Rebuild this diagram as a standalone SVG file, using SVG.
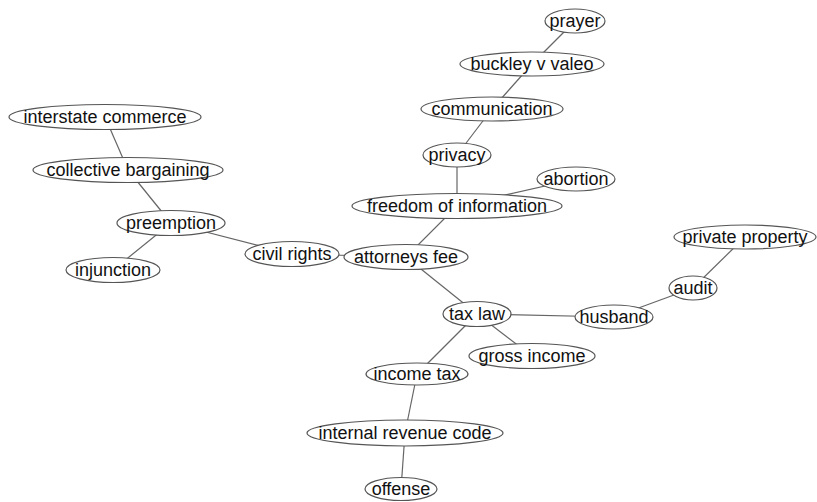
<svg xmlns="http://www.w3.org/2000/svg" width="817" height="502" viewBox="0 0 817 502">
<style>
.e{stroke:#666;stroke-width:1.2;fill:none}
ellipse{fill:#fff;stroke:#555;stroke-width:1.2}
text{font-family:"Liberation Sans",Arial,sans-serif;font-size:18px;fill:#111;text-anchor:middle;dominant-baseline:central}
</style>
<rect width="817" height="502" fill="#fff"/>
<g id="edges">
<line class="e" x1="575" y1="21" x2="532" y2="64"/>
<line class="e" x1="532" y1="64" x2="492" y2="109"/>
<line class="e" x1="492" y1="109" x2="457" y2="155"/>
<line class="e" x1="457" y1="155" x2="457" y2="206"/>
<line class="e" x1="576" y1="179" x2="457" y2="206"/>
<line class="e" x1="457" y1="206" x2="406" y2="257"/>
<line class="e" x1="105" y1="117" x2="128" y2="170"/>
<line class="e" x1="128" y1="170" x2="171" y2="223"/>
<line class="e" x1="171" y1="223" x2="113" y2="270"/>
<line class="e" x1="171" y1="223" x2="292" y2="254"/>
<line class="e" x1="292" y1="254" x2="406" y2="257"/>
<line class="e" x1="406" y1="257" x2="477" y2="314"/>
<line class="e" x1="477" y1="314" x2="614" y2="317"/>
<line class="e" x1="477" y1="314" x2="532" y2="356"/>
<line class="e" x1="477" y1="314" x2="417" y2="374"/>
<line class="e" x1="614" y1="317" x2="693" y2="288"/>
<line class="e" x1="693" y1="288" x2="745" y2="237"/>
<line class="e" x1="417" y1="374" x2="405" y2="433"/>
<line class="e" x1="405" y1="433" x2="401" y2="489"/>
</g>
<g id="prayer"><ellipse cx="575" cy="21" rx="30" ry="12"/><text x="575" y="21">prayer</text></g>
<g id="buckley-v-valeo"><ellipse cx="532" cy="64" rx="72" ry="12"/><text x="532" y="64">buckley v valeo</text></g>
<g id="communication"><ellipse cx="492" cy="109" rx="71" ry="12"/><text x="492" y="109">communication</text></g>
<g id="privacy"><ellipse cx="457" cy="155" rx="34" ry="12"/><text x="457" y="155">privacy</text></g>
<g id="abortion"><ellipse cx="576" cy="179" rx="39" ry="12"/><text x="576" y="179">abortion</text></g>
<g id="freedom-of-information"><ellipse cx="457" cy="206" rx="105" ry="12.5"/><text x="457" y="206">freedom of information</text></g>
<g id="interstate-commerce"><ellipse cx="105" cy="117" rx="96" ry="12.5"/><text x="105" y="117">interstate commerce</text></g>
<g id="collective-bargaining"><ellipse cx="128" cy="170" rx="95" ry="12.5"/><text x="128" y="170">collective bargaining</text></g>
<g id="preemption"><ellipse cx="171" cy="223" rx="54" ry="12.5"/><text x="171" y="223">preemption</text></g>
<g id="injunction"><ellipse cx="113" cy="270" rx="47" ry="12.5"/><text x="113" y="270">injunction</text></g>
<g id="civil-rights"><ellipse cx="292" cy="254" rx="47" ry="12.5"/><text x="292" y="254">civil rights</text></g>
<g id="attorneys-fee"><ellipse cx="406" cy="257" rx="62" ry="12.5"/><text x="406" y="257">attorneys fee</text></g>
<g id="tax-law"><ellipse cx="477" cy="314" rx="34" ry="12.5"/><text x="477" y="314">tax law</text></g>
<g id="gross-income"><ellipse cx="532" cy="356" rx="63" ry="12.5"/><text x="532" y="356">gross income</text></g>
<g id="husband"><ellipse cx="614" cy="317" rx="39" ry="12"/><text x="614" y="317">husband</text></g>
<g id="audit"><ellipse cx="693" cy="288" rx="24" ry="12"/><text x="693" y="288">audit</text></g>
<g id="private-property"><ellipse cx="745" cy="237" rx="71" ry="12"/><text x="745" y="237">private property</text></g>
<g id="income-tax"><ellipse cx="417" cy="374" rx="51" ry="11"/><text x="417" y="374">income tax</text></g>
<g id="internal-revenue-code"><ellipse cx="405" cy="433" rx="98" ry="13"/><text x="405" y="433">internal revenue code</text></g>
<g id="offense"><ellipse cx="401" cy="489" rx="36" ry="11.5"/><text x="401" y="489">offense</text></g>
</svg>
